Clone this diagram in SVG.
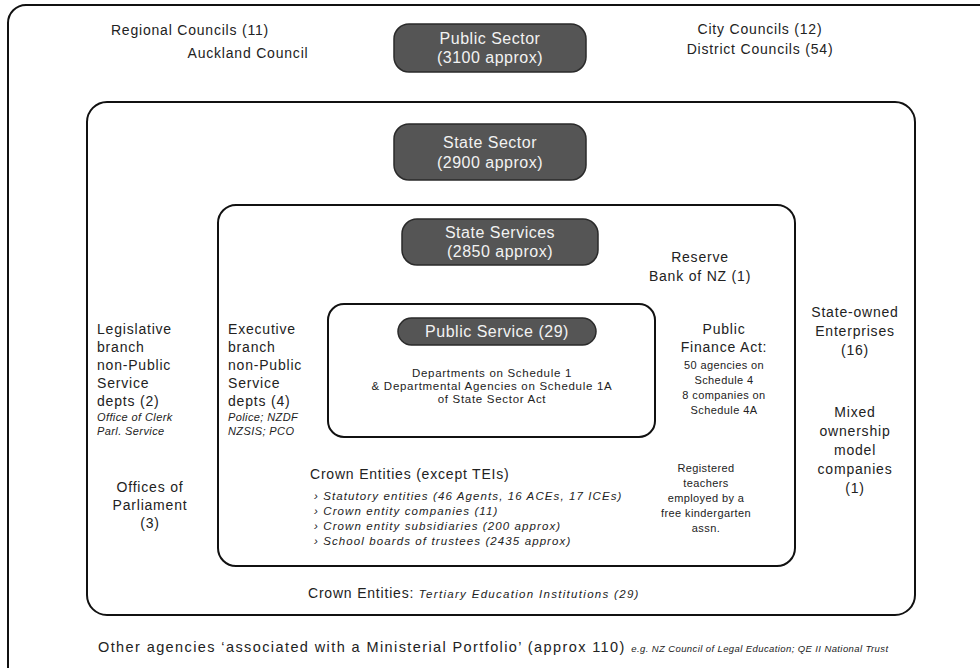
<svg xmlns="http://www.w3.org/2000/svg" width="980" height="668" viewBox="0 0 980 668">
  <style>
    .frame { fill: none; stroke: #111; stroke-width: 2; }
    .pill { fill: #555555; stroke: #2a2a2a; stroke-width: 1.5; }
    .pt { font-family: "Liberation Sans", Arial, sans-serif; font-size: 16px; fill: #f2f2f2; text-anchor: middle; letter-spacing: 0.5px; }
    .t { font-family: "Liberation Sans", Arial, sans-serif; font-size: 14px; fill: #222; letter-spacing: 0.8px; }
    .c { text-anchor: middle; }
    .s { font-family: "Liberation Sans", Arial, sans-serif; font-size: 11px; fill: #222; letter-spacing: 0.4px; }
    .i { font-style: italic; }
    .b { font-family: "Liberation Sans", Arial, sans-serif; font-size: 11.5px; font-style: italic; fill: #222; letter-spacing: 1.1px; }
    .d { font-size: 11.5px; letter-spacing: 0.7px; }
  </style>
  <rect width="980" height="668" fill="#ffffff"/>

  <!-- Public Sector (outermost frame, runs off the right and bottom edges) -->
  <g id="public-sector">
    <rect class="frame" x="8" y="5" width="990" height="680" rx="18"/>
    <rect class="pill" x="394" y="24" width="192" height="48" rx="15"/>
    <text class="pt" x="490" y="44">Public Sector</text>
    <text class="pt" x="490" y="63">(3100 approx)</text>
  </g>

  <g id="regional-councils">
    <text class="t c" x="190" y="35">Regional Councils (11)</text>
    <text class="t c" x="248" y="58">Auckland Council</text>
  </g>

  <g id="territorial-councils">
    <text class="t c" x="760" y="34">City Councils (12)</text>
    <text class="t c" x="760" y="54">District Councils (54)</text>
  </g>

  <!-- State Sector -->
  <g id="state-sector">
    <rect class="frame" x="87" y="102" width="828" height="513" rx="20"/>
    <rect class="pill" x="394" y="124" width="192" height="56" rx="15"/>
    <text class="pt" x="490" y="148">State Sector</text>
    <text class="pt" x="490" y="168">(2900 approx)</text>
  </g>

  <g id="legislative-branch">
    <text class="t" x="97" y="334">Legislative</text>
    <text class="t" x="97" y="352">branch</text>
    <text class="t" x="97" y="370">non-Public</text>
    <text class="t" x="97" y="388">Service</text>
    <text class="t" x="97" y="406">depts (2)</text>
    <text class="s i" x="97" y="421">Office of Clerk</text>
    <text class="s i" x="97" y="435">Parl. Service</text>
  </g>

  <g id="offices-of-parliament">
    <text class="t c" x="150" y="492">Offices of</text>
    <text class="t c" x="150" y="510">Parliament</text>
    <text class="t c" x="150" y="528">(3)</text>
  </g>

  <g id="state-owned-enterprises">
    <text class="t c" x="855" y="317">State-owned</text>
    <text class="t c" x="855" y="336">Enterprises</text>
    <text class="t c" x="855" y="355">(16)</text>
  </g>

  <g id="mixed-ownership">
    <text class="t c" x="855" y="417">Mixed</text>
    <text class="t c" x="855" y="436">ownership</text>
    <text class="t c" x="855" y="455">model</text>
    <text class="t c" x="855" y="474">companies</text>
    <text class="t c" x="855" y="493">(1)</text>
  </g>

  <g id="tertiary-institutions">
    <text class="t" x="308" y="598">Crown Entities: <tspan class="b" style="letter-spacing:1.3px">Tertiary Education Institutions (29)</tspan></text>
  </g>

  <!-- State Services -->
  <g id="state-services">
    <rect class="frame" x="218" y="205" width="577" height="361" rx="18"/>
    <rect class="pill" x="402" y="219" width="196" height="46" rx="15"/>
    <text class="pt" x="500" y="238">State Services</text>
    <text class="pt" x="500" y="257">(2850 approx)</text>
  </g>

  <g id="reserve-bank">
    <text class="t c" x="700" y="262">Reserve</text>
    <text class="t c" x="700" y="281">Bank of NZ (1)</text>
  </g>

  <g id="executive-branch">
    <text class="t" x="228" y="334">Executive</text>
    <text class="t" x="228" y="352">branch</text>
    <text class="t" x="228" y="370">non-Public</text>
    <text class="t" x="228" y="388">Service</text>
    <text class="t" x="228" y="406">depts (4)</text>
    <text class="s i" x="228" y="421">Police; NZDF</text>
    <text class="s i" x="228" y="435">NZSIS; PCO</text>
  </g>

  <g id="public-finance-act">
    <text class="t c" x="724" y="334">Public</text>
    <text class="t c" x="724" y="352">Finance Act:</text>
    <text class="s c" x="724" y="369">50 agencies on</text>
    <text class="s c" x="724" y="384">Schedule 4</text>
    <text class="s c" x="724" y="399">8 companies on</text>
    <text class="s c" x="724" y="414">Schedule 4A</text>
  </g>

  <g id="crown-entities">
    <text class="t" x="310" y="479">Crown Entities (except TEIs)</text>
    <text class="b" x="314" y="500">› Statutory entities (46 Agents, 16 ACEs, 17 ICEs)</text>
    <text class="b" x="314" y="515">› Crown entity companies (11)</text>
    <text class="b" x="314" y="530">› Crown entity subsidiaries (200 approx)</text>
    <text class="b" x="314" y="545">› School boards of trustees (2435 approx)</text>
  </g>

  <g id="kindergarten-teachers">
    <text class="s c" x="706" y="472">Registered</text>
    <text class="s c" x="706" y="487">teachers</text>
    <text class="s c" x="706" y="502">employed by a</text>
    <text class="s c" x="706" y="517">free kindergarten</text>
    <text class="s c" x="706" y="532">assn.</text>
  </g>

  <!-- Public Service -->
  <g id="public-service">
    <rect class="frame" x="328" y="304" width="327" height="133" rx="16"/>
    <rect class="pill" x="398" y="318" width="198" height="27" rx="13.5"/>
    <text class="pt" x="497" y="337">Public Service (29)</text>
    <text class="s c d" x="492" y="377">Departments on Schedule 1</text>
    <text class="s c d" x="492" y="390">&amp; Departmental Agencies on Schedule 1A</text>
    <text class="s c d" x="492" y="403">of State Sector Act</text>
  </g>

  <g id="other-agencies">
    <text class="t" x="98" y="652" style="font-size:14.5px;letter-spacing:1.4px">Other agencies ‘associated with a Ministerial Portfolio’ (approx 110) <tspan class="s i" style="font-size:9.5px;letter-spacing:0.4px">e.g. NZ Council of Legal Education; QE II National Trust</tspan></text>
  </g>

  <!-- nested-set diagram: no connectors -->
  <g id="connectors"/>
</svg>
